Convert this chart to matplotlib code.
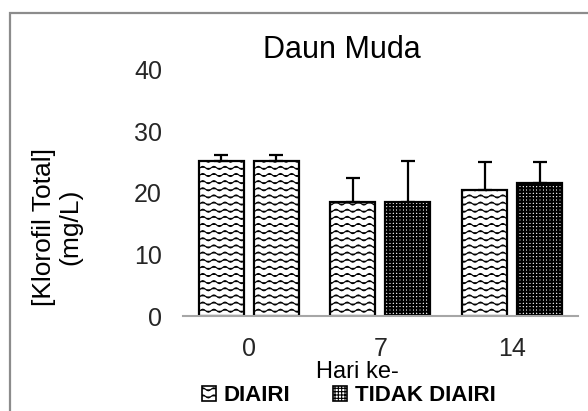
import warnings
import numpy as np
import matplotlib
matplotlib.use("Agg")
import matplotlib.pyplot as plt
from matplotlib import hatch as mhatch
from matplotlib.path import Path
from matplotlib.patches import Patch, Rectangle

warnings.filterwarnings("ignore")

# data
days = ["0", "7", "14"]
diairi = [25.2, 18.6, 20.5]
diairi_err = [0.9, 3.9, 4.5]
tidak = [25.2, 18.5, 21.6]
tidak_err = [0.9, 6.7, 3.4]
# the first bar of "TIDAK DIAIRI" is drawn with the wave pattern in the original
tidak_hatch = ["~", "+++++", "+++++"]


# wavy hatch, Excel style
class WaveHatch(mhatch.HatchPatternBase):
    def __init__(self, hatch, density):
        self.rows = hatch.count("~") * 14
        self.pts = 9 * 8 + 1
        self.num_vertices = self.rows * self.pts

    def set_vertices_and_codes(self, vertices, codes):
        xs = np.linspace(0, 1, self.pts)
        ys0 = (np.arange(self.rows) + 0.5) / self.rows
        for i, y0 in enumerate(ys0):
            s = slice(i * self.pts, (i + 1) * self.pts)
            vertices[s, 0] = xs
            vertices[s, 1] = y0 + 0.015 * np.sin(2 * np.pi * 9 * xs)
            codes[s] = Path.LINETO
            codes[i * self.pts] = Path.MOVETO


mhatch._hatch_types.append(WaveHatch)

plt.rcParams["font.family"] = ["Liberation Sans", "DejaVu Sans"]

fig = plt.figure(figsize=(5.88, 4.11), dpi=100)
ax = fig.add_axes([0.311, 0.231, 0.672, 0.599])

x = np.arange(len(days))
w = 0.342
off = 0.209

WAVE_LW = 0.8
CHECK_LW = 1.5


def set_hlw(b, lw):
    if hasattr(b, "set_hatch_linewidth"):
        b.set_hatch_linewidth(lw)


plt.rcParams["hatch.linewidth"] = WAVE_LW
b1 = ax.bar(x - off, diairi, w, color="white", edgecolor="black",
            linewidth=1.6, hatch="~", zorder=2)
for b in b1:
    set_hlw(b, WAVE_LW)
b2 = ax.bar(x + off, tidak, w, color="white", edgecolor="black",
            linewidth=1.6, zorder=2)
for b, h in zip(b2, tidak_hatch):
    b.set_hatch(h)
    set_hlw(b, WAVE_LW if h == "~" else CHECK_LW)

ax.errorbar(x - off, diairi, yerr=[[0] * 3, diairi_err], fmt="none",
            ecolor="black", elinewidth=1.6, capsize=4.8, capthick=1.6, zorder=3)
ax.errorbar(x + off, tidak, yerr=[[0] * 3, tidak_err], fmt="none",
            ecolor="black", elinewidth=1.6, capsize=4.8, capthick=1.6, zorder=3)

ax.set_xlim(-0.5, 2.5)
ax.set_ylim(0, 40)
ax.set_yticks([0, 10, 20, 30, 40])
ax.set_xticks(x)
ax.set_xticklabels(days)
ax.tick_params(axis="both", length=0, labelsize=18, colors="#262626", pad=15)
for s in ["top", "right", "left"]:
    ax.spines[s].set_visible(False)
ax.spines["bottom"].set_color("#a6a6a6")
ax.spines["bottom"].set_linewidth(1.5)

fig.text(0.582, 0.878, "Daun Muda", ha="center", va="center", fontsize=22)
fig.text(0.607, 0.095, "Hari ke-", ha="center", va="center", fontsize=17)
fig.text(0.097, 0.448, "[Klorofil Total]\n(mg/L)", rotation=90, ha="center",
         va="center", multialignment="center", fontsize=19, linespacing=1.15)

handles = [Patch(facecolor="white", edgecolor="black", hatch="~", linewidth=1.2),
           Patch(facecolor="white", edgecolor="black", hatch="+++++", linewidth=1.2)]
leg = fig.legend(handles, ["DIAIRI", "TIDAK DIAIRI"], loc="center",
                 bbox_to_anchor=(0.593, 0.037), ncol=2, frameon=False,
                 handlelength=0.65, handleheight=0.65, handletextpad=0.35,
                 columnspacing=1.9, borderaxespad=0,
                 prop={"size": 16, "weight": "bold"})

# outer chart frame, runs off the right and bottom edges
fig.patches.append(Rectangle((0.017, -0.2), 1.2, 1.168, transform=fig.transFigure,
                             fill=False, edgecolor="#8c8c8c", linewidth=1.6))

fig.savefig("out.png", dpi=100)
